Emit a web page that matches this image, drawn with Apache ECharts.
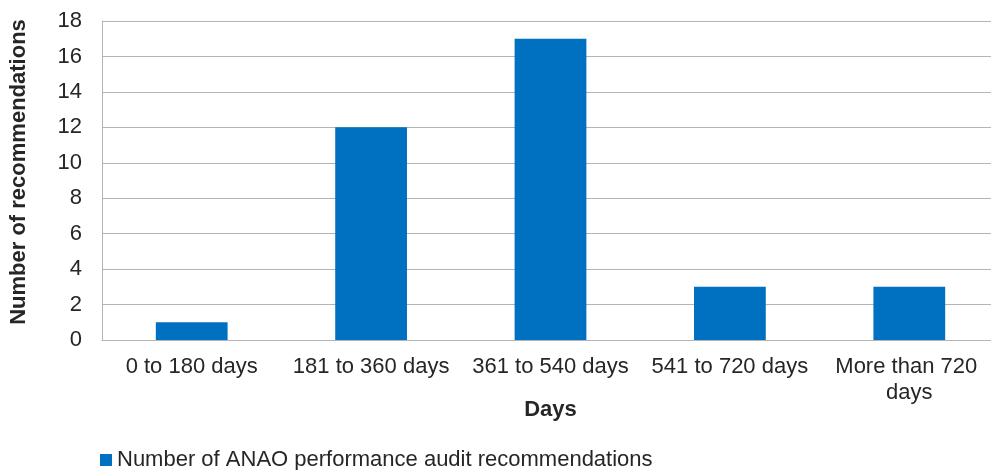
<!DOCTYPE html>
<html>
<head>
<meta charset="utf-8">
<script src="https://cdn.jsdelivr.net/npm/echarts@6/dist/echarts.min.js"></script>
<style>
  html, body { margin: 0; padding: 0; background: #ffffff; }
  #chart { width: 991px; height: 470px; }
</style>
</head>
<body>
<div id="chart"></div>
<script>
// Age of open recommendations, grouped by days
const categories = ['0 to 180 days', '181 to 360 days', '361 to 540 days', '541 to 720 days', 'More than 720 days'];
const recommendations = [1, 12, 17, 3, 3];
const seriesName = 'Number of ANAO performance audit recommendations';
const yTicks = { min: 0, max: 18, interval: 2 };

const FONT = 'Liberation Sans, Arial, sans-serif';
const TEXT = '#262626';
const GRID_LINE = '#b4b4b4';

const chart = echarts.init(document.getElementById('chart'), null, { renderer: 'canvas' });

chart.setOption({
  animation: false,
  backgroundColor: '#ffffff',
  textStyle: { fontFamily: FONT },
  grid: { left: 102, top: 21, width: 897, height: 319, containLabel: false, outerBoundsMode: 'none' },
  legend: {
    left: 100,
    top: 449,
    padding: 0,
    itemWidth: 12,
    itemHeight: 12,
    icon: 'rect',
    textStyle: { fontFamily: FONT, fontSize: 22, color: TEXT },
    data: [seriesName]
  },
  xAxis: {
    type: 'category',
    data: categories,
    name: 'Days',
    nameLocation: 'middle',
    nameGap: 59,
    nameMoveOverlap: false,
    nameTextStyle: { fontFamily: FONT, fontSize: 22, fontWeight: 'bold', color: TEXT },
    axisLine: { lineStyle: { color: GRID_LINE, width: 1 } },
    axisTick: { show: false },
    axisLabel: {
      interval: 0,
      margin: 14,
      fontFamily: FONT,
      fontSize: 22,
      color: TEXT,
      lineHeight: 26,
      width: 160,
      overflow: 'break'
    }
  },
  yAxis: {
    type: 'value',
    min: yTicks.min,
    max: yTicks.max,
    interval: yTicks.interval,
    name: 'Number of recommendations',
    nameLocation: 'middle',
    nameGap: 72,
    nameMoveOverlap: false,
    nameTextStyle: { fontFamily: FONT, fontSize: 22, fontWeight: 'bold', color: TEXT, padding: [0, 0, 0, 17] },
    axisLine: { show: true, lineStyle: { color: GRID_LINE, width: 1 } },
    axisTick: { show: false },
    axisLabel: { margin: 20, fontFamily: FONT, fontSize: 22, color: TEXT },
    splitLine: { show: true, lineStyle: { color: GRID_LINE, width: 1 } }
  },
  series: [{
    name: seriesName,
    type: 'bar',
    data: recommendations,
    barWidth: '40%',
    itemStyle: { color: '#0070C0' }
  }]
});
</script>
</body>
</html>
